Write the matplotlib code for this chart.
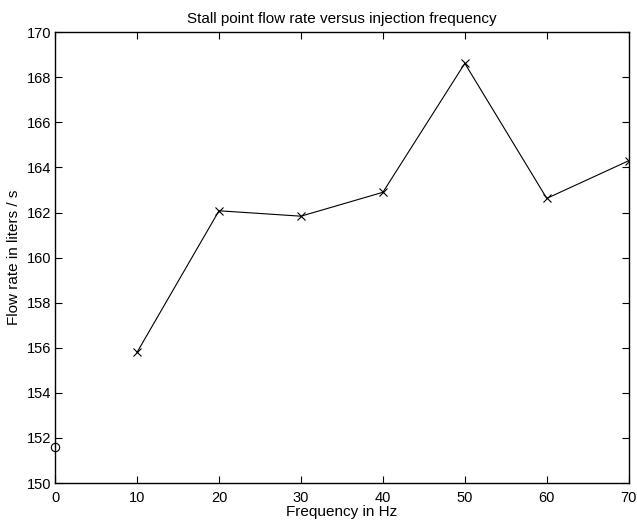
import matplotlib
matplotlib.use('Agg')
import matplotlib.pyplot as plt

plt.rcParams['font.family'] = ['Liberation Sans', 'DejaVu Sans']

# data
freq = [10, 20, 30, 40, 50, 60, 70]
flow = [155.8, 162.08, 161.84, 162.9, 168.62, 162.63, 164.3]
base_freq = [0]
base_flow = [151.58]

xticks = [0, 10, 20, 30, 40, 50, 60, 70]
yticks = [150, 152, 154, 156, 158, 160, 162, 164, 166, 168, 170]

fig = plt.figure(figsize=(6.37, 5.2), dpi=100)
ax = fig.add_axes([0.0865, 0.071, 0.9005, 0.867])

ax.plot(freq, flow, color='black', lw=0.8, marker='x', ms=6, mew=0.8)
ax.plot(base_freq, base_flow, ls='none', marker='o', ms=6, mfc='none',
        mec='black', mew=0.8, clip_on=False)

ax.set_xlim(0, 70)
ax.set_ylim(150, 170)
ax.set_xticks(xticks)
ax.set_yticks(yticks)
ax.tick_params(direction='in', top=True, right=True, length=5, width=0.8,
               labelsize=10.5)
ax.tick_params(axis='x', pad=6)
ax.tick_params(axis='y', pad=3)
for s in ax.spines.values():
    s.set_linewidth(1.0)

ax.set_title('Stall point flow rate versus injection frequency', fontsize=11, pad=7)
ax.set_xlabel('Frequency in Hz', fontsize=11, labelpad=0)
ax.set_ylabel('Flow rate in liters / s', fontsize=11, labelpad=4)

fig.savefig('out.png', dpi=100)
